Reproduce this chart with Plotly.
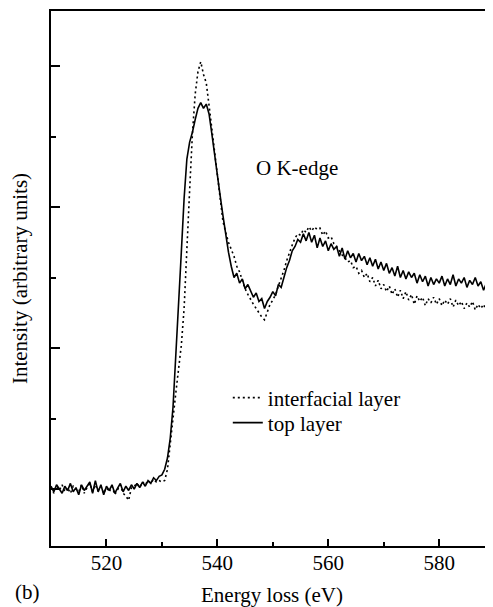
import plotly.graph_objects as go

# Energy grid (eV), 0.5 eV steps from 510 to 590
energy_start = 510.0
energy_step = 0.5

# top layer (solid), rows of 10 points (5 eV per row)
top_layer = [
    0.02, -0.02, 0.03, 0.00, -0.03, 0.02, -0.01, 0.04, -0.02, 0.01,   # 510-514.5
    -0.04, 0.03, -0.01, 0.02, 0.05, -0.03, 0.06, -0.02, 0.03, -0.04,  # 515-519.5
    0.02, -0.01, 0.03, -0.03, 0.01, 0.04, -0.02, 0.02, -0.01, 0.03,   # 520-524.5
    0.00, 0.04, 0.01, 0.05, 0.02, 0.06, 0.04, 0.08, 0.06, 0.09,       # 525-529.5
    0.10, 0.14, 0.22, 0.36, 0.58, 0.92, 1.28, 1.68, 2.06, 2.34,       # 530-534.5
    2.46, 2.53, 2.62, 2.70, 2.74, 2.70, 2.73, 2.66, 2.52, 2.36,       # 535-539.5
    2.23, 2.08, 1.94, 1.80, 1.68, 1.58, 1.50, 1.53, 1.46, 1.49,       # 540-544.5
    1.42, 1.45, 1.40, 1.36, 1.39, 1.33, 1.35, 1.28, 1.33, 1.36,       # 545-549.5
    1.40, 1.37, 1.45, 1.43, 1.50, 1.57, 1.62, 1.69, 1.72, 1.77,       # 550-554.5
    1.75, 1.81, 1.76, 1.82, 1.75, 1.80, 1.71, 1.78, 1.72, 1.76,       # 555-559.5
    1.69, 1.74, 1.70, 1.72, 1.65, 1.71, 1.63, 1.69, 1.64, 1.67,       # 560-564.5
    1.61, 1.67, 1.62, 1.65, 1.59, 1.64, 1.58, 1.63, 1.56, 1.61,       # 565-569.5
    1.55, 1.60, 1.53, 1.57, 1.51, 1.58, 1.50, 1.55, 1.49, 1.54,       # 570-574.5
    1.50, 1.53, 1.46, 1.52, 1.47, 1.51, 1.44, 1.50, 1.45, 1.49,       # 575-579.5
    1.46, 1.51, 1.44, 1.49, 1.45, 1.52, 1.44, 1.49, 1.46, 1.50,       # 580-584.5
    1.43, 1.48, 1.45, 1.50, 1.44, 1.47, 1.41, 1.46, 1.40, 1.44,       # 585-589.5
    1.40,                                                             # 590
]

# interfacial layer (dotted)
interfacial_layer = [
    0.01, -0.03, 0.02, -0.01, 0.03, -0.02, 0.01, -0.03, 0.02, 0.00,   # 510-514.5
    -0.02, 0.03, -0.03, 0.01, 0.04, -0.02, 0.03, -0.01, 0.02, -0.03,  # 515-519.5
    0.01, -0.02, 0.02, -0.04, 0.00, 0.03, -0.03, -0.05, -0.08, 0.01,  # 520-524.5
    0.02, 0.04, 0.01, 0.05, 0.03, 0.06, 0.04, 0.07, 0.05, 0.06,       # 525-529.5
    0.05, 0.06, 0.14, 0.30, 0.50, 0.68, 0.85, 1.02, 1.28, 1.65,       # 530-534.5
    2.12, 2.52, 2.80, 2.96, 3.03, 2.94, 2.88, 2.72, 2.56, 2.36,       # 535-539.5
    2.20, 2.05, 1.90, 1.82, 1.75, 1.70, 1.65, 1.58, 1.54, 1.48,       # 540-544.5
    1.42, 1.38, 1.34, 1.31, 1.28, 1.25, 1.22, 1.20, 1.26, 1.31,       # 545-549.5
    1.34, 1.38, 1.44, 1.49, 1.55, 1.62, 1.68, 1.73, 1.78, 1.81,       # 550-554.5
    1.80, 1.84, 1.82, 1.86, 1.83, 1.86, 1.84, 1.85, 1.80, 1.83,       # 555-559.5
    1.78, 1.79, 1.74, 1.72, 1.69, 1.66, 1.64, 1.61, 1.62, 1.57,       # 560-564.5
    1.58, 1.53, 1.55, 1.50, 1.53, 1.47, 1.50, 1.44, 1.48, 1.42,       # 565-569.5
    1.45, 1.40, 1.44, 1.38, 1.42, 1.36, 1.41, 1.35, 1.40, 1.34,       # 570-574.5
    1.38, 1.31, 1.37, 1.33, 1.36, 1.30, 1.35, 1.32, 1.36, 1.31,       # 575-579.5
    1.35, 1.30, 1.34, 1.31, 1.35, 1.29, 1.34, 1.30, 1.33, 1.28,       # 580-584.5
    1.32, 1.29, 1.33, 1.27, 1.31, 1.28, 1.31, 1.26, 1.30, 1.28,       # 585-589.5
    1.28,                                                             # 590
]

energy_top = [energy_start + energy_step * i for i in range(len(top_layer))]
energy_int = [energy_start + energy_step * i for i in range(len(interfacial_layer))]

x_ticks = [520, 540, 560, 580]
x_tick_labels = ["520", "540", "560", "580"]

FONT = "Liberation Serif, Times New Roman, serif"

fig = go.Figure()
fig.add_trace(go.Scatter(
    x=energy_int, y=interfacial_layer, mode="lines", name="interfacial layer",
    line=dict(color="black", width=1.6, dash="2px,3px"), legend="legend",
))
fig.add_trace(go.Scatter(
    x=energy_top, y=top_layer, mode="lines", name="top layer",
    line=dict(color="black", width=1.6), legend="legend2",
))

fig.add_annotation(x=554.3, y=2.28, text="O K-edge", showarrow=False,
                   font=dict(family=FONT, size=21, color="black"))
fig.add_annotation(x=-0.086, y=-0.113, xref="paper", yref="paper", text="(b)",
                   showarrow=False, xanchor="left", yanchor="bottom",
                   font=dict(family=FONT, size=21, color="black"))

legend_style = dict(xanchor="left", yanchor="middle", bgcolor="rgba(0,0,0,0)",
                    itemwidth=30, font=dict(family=FONT, size=21, color="black"))

# page body adds an 8 px offset, so the figure is sized to the visible area
fig.update_layout(
    width=485, height=599,
    margin=dict(l=43, r=0, t=3, b=61, autoexpand=False),
    paper_bgcolor="white", plot_bgcolor="white",
    font=dict(family=FONT, size=21, color="black"),
    legend=dict(x=0.40, y=0.2766, **legend_style),
    legend2=dict(x=0.40, y=0.2299, **legend_style),
    showlegend=True,
)
fig.update_xaxes(
    range=[510, 589.7], tickvals=x_ticks, ticktext=x_tick_labels,
    ticks="inside", ticklen=7, tickwidth=2, tickcolor="black",
    showline=True, linecolor="black", linewidth=2, mirror=True,
    showgrid=False, zeroline=False, automargin=False,
    ticklabelstandoff=-3,
    minor=dict(tickvals=[530, 550, 570], ticks="inside", ticklen=4, tickwidth=2, tickcolor="black"),
    title=dict(text="Energy loss (eV)", standoff=14, font=dict(family=FONT, size=21)),
    tickfont=dict(family=FONT, size=21),
)
fig.update_yaxes(
    range=[-0.404, 3.39], tick0=0, dtick=1, showticklabels=False,
    ticks="inside", ticklen=9, tickwidth=2, tickcolor="black",
    showline=True, linecolor="black", linewidth=2, mirror=False,
    showgrid=False, zeroline=False, automargin=False,
    minor=dict(tick0=0, dtick=0.5, ticks="inside", ticklen=5, tickwidth=2, tickcolor="black"),
    title=dict(text="Intensity (arbitrary units)", standoff=17, font=dict(family=FONT, size=21)),
)

fig.write_html("out.html")
